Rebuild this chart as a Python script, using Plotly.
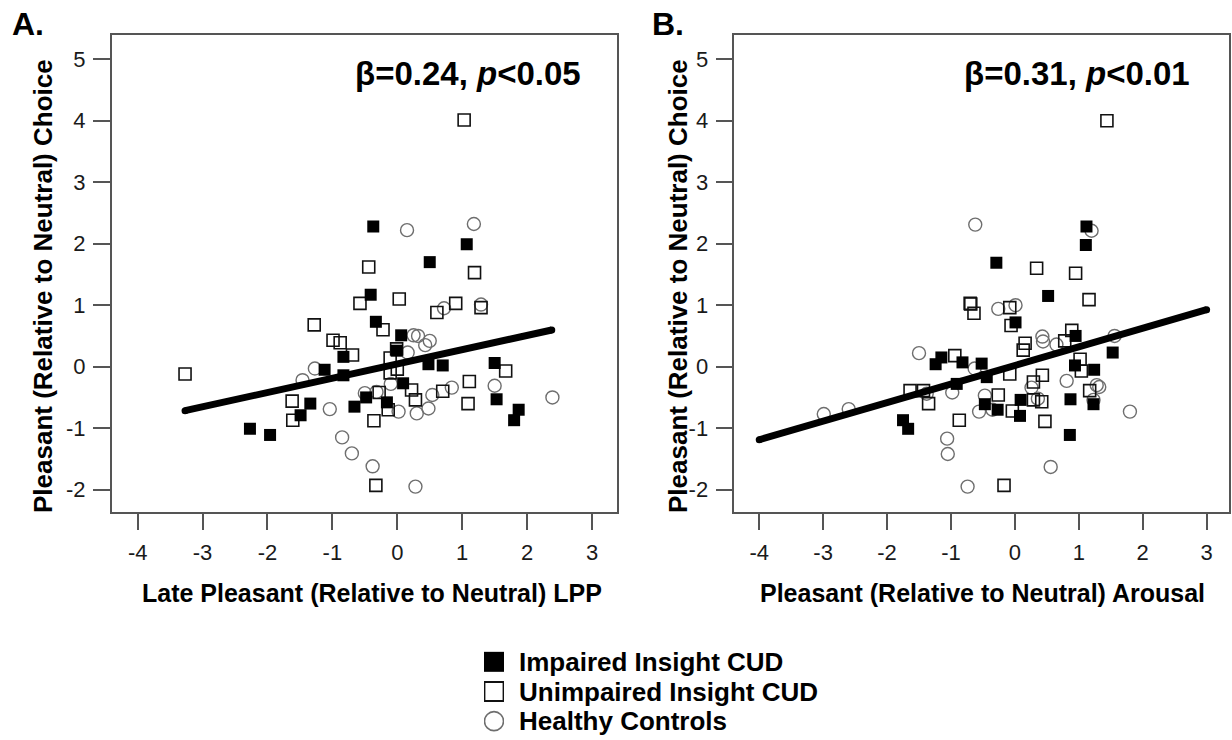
import plotly.graph_objects as go

W, H = 1232, 740
FONT = "Liberation Sans, Arial, sans-serif"

# ---------------- Data ----------------
groups = ["Impaired Insight CUD", "Unimpaired Insight CUD", "Healthy Controls"]
x_ticks = [-4, -3, -2, -1, 0, 1, 2, 3]
x_tick_labels = ["-4", "-3", "-2", "-1", "0", "1", "2", "3"]
y_ticks = [-2, -1, 0, 1, 2, 3, 4, 5]
y_tick_labels = ["-2", "-1", "0", "1", "2", "3", "4", "5"]

# Panel A: Late Pleasant LPP vs Pleasant choice
a_imp_x = [-0.37, 1.07, 0.50, -0.41, -0.33, 0.06, -0.01, -0.83, -1.12, -0.83, 0.48, 0.70,
           1.50, 0.09, -0.16, -0.48, -0.66, -1.34, -1.49, -2.27, -1.96, 1.53, 1.87, 1.80]
a_imp_y = [2.28, 1.99, 1.70, 1.17, 0.73, 0.51, 0.26, 0.16, -0.05, -0.14, 0.04, 0.02,
           0.06, -0.27, -0.58, -0.50, -0.65, -0.60, -0.79, -1.01, -1.11, -0.53, -0.70, -0.87]
a_uni_x = [1.03, -0.44, 1.19, -0.575, 0.03, 0.90, 0.61, 1.29, -1.28, -0.22, -0.99, -0.88,
           -0.01, -0.69, -0.11, -3.27, 0.00, -0.11, 1.67, 1.11, 0.22, 0.28, 0.70, -0.14,
           -0.28, -0.36, -1.62, -1.61, -0.33, 1.09]
a_uni_y = [4.01, 1.62, 1.53, 1.03, 1.10, 1.03, 0.88, 0.96, 0.68, 0.60, 0.43, 0.39,
           0.29, 0.19, 0.14, -0.12, -0.04, -0.10, -0.07, -0.24, -0.38, -0.54, -0.40, -0.70,
           -0.42, -0.88, -0.56, -0.87, -1.93, -0.60]
a_hc_x = [0.15, 1.18, 0.72, 1.29, 0.25, 0.32, 0.43, 0.50, 0.16, -1.27, -1.46, -0.10, 0.84,
          0.54, 0.48, 0.30, 0.02, -0.32, -0.50, -1.04, -0.85, -0.70, -0.38, 0.28, 1.50, 2.39]
a_hc_y = [2.22, 2.32, 0.95, 1.01, 0.51, 0.50, 0.35, 0.42, 0.23, -0.03, -0.22, -0.28, -0.34,
          -0.46, -0.68, -0.76, -0.73, -0.41, -0.43, -0.69, -1.15, -1.41, -1.62, -1.95, -0.31, -0.50]
a_fit_x = [-3.27, 2.38]
a_fit_slope, a_fit_intercept = 0.232, 0.044

# Panel B: Pleasant arousal vs Pleasant choice
b_imp_x = [1.12, 1.11, -0.29, 0.01, 0.52, -1.15, -1.24, -0.82, -0.52, -0.44, -0.91, -1.75,
           -1.67, -0.47, -0.27, 0.09, 0.08, 0.86, 0.87, 0.94, 1.24, 1.53, 1.23, 0.95]
b_imp_y = [2.28, 1.98, 1.69, 0.72, 1.15, 0.15, 0.04, 0.07, 0.05, -0.17, -0.28, -0.87,
           -1.01, -0.61, -0.70, -0.54, -0.80, -1.11, -0.53, 0.02, -0.05, 0.23, -0.61, 0.50]
b_uni_x = [1.44, 0.34, 0.95, -0.69, -0.70, -0.64, -0.08, -0.06, 1.16, 0.89, 0.78, 0.16,
           0.13, -0.94, -0.08, 1.02, 1.04, 0.43, 0.29, 1.17, -1.64, -1.43, -1.35, -0.26,
           0.29, 0.42, -0.04, -0.87, 0.47, -0.17]
b_uni_y = [4.00, 1.60, 1.52, 1.02, 1.03, 0.87, 0.96, 0.67, 1.09, 0.59, 0.42, 0.38,
           0.27, 0.18, -0.12, 0.12, -0.07, -0.14, -0.25, -0.39, -0.39, -0.39, -0.60, -0.46,
           -0.54, -0.57, -0.72, -0.87, -0.89, -1.93]
b_hc_x = [-0.62, 1.20, -0.26, 0.01, 1.56, 0.43, 0.44, 0.65, -1.50, -0.63, 0.81, -2.99,
          -2.60, -1.38, -0.98, -0.47, -0.56, -0.35, 0.26, 0.36, 1.28, 1.32, 1.23, 1.80,
          -1.06, -1.05, 0.56, -0.74]
b_hc_y = [2.31, 2.21, 0.94, 1.00, 0.50, 0.49, 0.41, 0.36, 0.22, -0.03, -0.23, -0.77,
          -0.69, -0.44, -0.42, -0.47, -0.73, -0.70, -0.34, -0.52, -0.30, -0.33, -0.54, -0.73,
          -1.17, -1.42, -1.63, -1.95]
b_fit_x = [-4.0, 3.0]
b_fit_slope, b_fit_intercept = 0.302, 0.020

# ---------------- Helpers ----------------
def fx(px):
    return px / W

def fy(py):
    return 1 - py / H

HC_COLOR = "#6e6e6e"

def add_panel(fig, xa, ya, imp, uni, hc, fit_x, slope, icpt):
    fig.add_trace(go.Scatter(x=hc[0], y=hc[1], mode="markers", xaxis=xa, yaxis=ya,
                             marker=dict(symbol="circle-open", size=13, color=HC_COLOR,
                                         line=dict(width=1.4, color=HC_COLOR)),
                             showlegend=False, hoverinfo="skip"))
    fig.add_trace(go.Scatter(x=uni[0], y=uni[1], mode="markers", xaxis=xa, yaxis=ya,
                             marker=dict(symbol="square-open", size=12, color="#111",
                                         line=dict(width=1.6, color="#111")),
                             showlegend=False, hoverinfo="skip"))
    fig.add_trace(go.Scatter(x=imp[0], y=imp[1], mode="markers", xaxis=xa, yaxis=ya,
                             marker=dict(symbol="square", size=12, color="#000",
                                         line=dict(width=0)),
                             showlegend=False, hoverinfo="skip"))
    fit_y = [icpt + slope * v for v in fit_x]
    fig.add_trace(go.Scatter(x=fit_x, y=fit_y, mode="lines+markers", xaxis=xa, yaxis=ya,
                             line=dict(color="#000", width=7),
                             marker=dict(symbol="circle", size=7, color="#000"),
                             showlegend=False, hoverinfo="skip"))

fig = go.Figure()
add_panel(fig, "x", "y", (a_imp_x, a_imp_y), (a_uni_x, a_uni_y), (a_hc_x, a_hc_y),
          a_fit_x, a_fit_slope, a_fit_intercept)
add_panel(fig, "x2", "y2", (b_imp_x, b_imp_y), (b_uni_x, b_uni_y), (b_hc_x, b_hc_y),
          b_fit_x, b_fit_slope, b_fit_intercept)

# Legend drawn on a small helper axis (categories = group names)
fig.add_trace(go.Scatter(x=[0], y=[groups[0]], mode="markers", xaxis="x3", yaxis="y3",
                         marker=dict(symbol="square", size=20, color="#000"),
                         showlegend=False, hoverinfo="skip"))
fig.add_trace(go.Scatter(x=[0], y=[groups[1]], mode="markers", xaxis="x3", yaxis="y3",
                         marker=dict(symbol="square-open", size=19, color="#111",
                                     line=dict(width=1.8, color="#111")),
                         showlegend=False, hoverinfo="skip"))
fig.add_trace(go.Scatter(x=[0], y=[groups[2]], mode="markers", xaxis="x3", yaxis="y3",
                         marker=dict(symbol="circle-open", size=19, color=HC_COLOR,
                                     line=dict(width=1.6, color=HC_COLOR)),
                         showlegend=False, hoverinfo="skip"))

BOX = "#555555"
tickfont = dict(family=FONT, size=22, color="#1a1a1a")

def xaxis_cfg(dom, rng, anchor):
    return dict(domain=dom, range=rng, anchor=anchor, showline=True, linecolor=BOX,
                linewidth=1.5, mirror=True, ticks="outside", ticklen=17, tickwidth=1.5,
                tickcolor=BOX, tickvals=x_ticks, ticktext=x_tick_labels, tickfont=tickfont,
                ticklabelstandoff=3, showgrid=False, zeroline=False)

def yaxis_cfg(dom, rng, anchor):
    return dict(domain=dom, range=rng, anchor=anchor, showline=True, linecolor=BOX,
                linewidth=1.5, mirror=True, ticks="outside", ticklen=17, tickwidth=1.5,
                tickcolor=BOX, tickvals=y_ticks, ticktext=y_tick_labels, tickfont=tickfont,
                ticklabelstandoff=3, showgrid=False, zeroline=False)

y_dom = [fy(511.7), fy(34.7)]
y_rng = [-2.358, 5.398]

fig.update_layout(
    width=W, height=H, margin=dict(l=0, r=0, t=0, b=0),
    paper_bgcolor="white", plot_bgcolor="white",
    font=dict(family=FONT, color="#000"),
    xaxis=xaxis_cfg([fx(111.7), fx(617)], [-4.40, 3.385], "y"),
    yaxis=yaxis_cfg(y_dom, y_rng, "x"),
    xaxis2=xaxis_cfg([fx(734.3), fx(1229)], [-4.39, 3.35], "y2"),
    yaxis2=yaxis_cfg(y_dom, y_rng, "x2"),
    xaxis3=dict(domain=[fx(484), fx(504)], range=[-1, 1], anchor="y3", visible=False,
                fixedrange=True),
    yaxis3=dict(domain=[fy(736), fy(647)], anchor="x3", type="category",
                categoryorder="array", categoryarray=groups[::-1], range=[-0.5, 2.5],
                tickmode="array", tickvals=groups, ticktext=groups,
                side="right", showline=False, ticks="", showgrid=False, zeroline=False,
                ticklabelstandoff=14,
                tickfont=dict(family=FONT, size=26, color="#000", weight="bold")),
    showlegend=False,
)

ann = []
def text(px, py, s, size, xanchor="center", angle=0):
    ann.append(dict(x=fx(px), y=fy(py), xref="paper", yref="paper", text=s,
                    showarrow=False, xanchor=xanchor, yanchor="middle", textangle=angle,
                    font=dict(family=FONT, size=size, color="#000", weight="bold")))

text(10, 24, "A.", 32, xanchor="left")
text(650, 24, "B.", 32, xanchor="left")
text(468, 74, "β=0.24, <i>p</i>&lt;0.05", 33)
text(1077, 74, "β=0.31, <i>p</i>&lt;0.01", 33)
text(43, 286, "Pleasant (Relative to Neutral) Choice", 26, angle=-90)
text(678, 286, "Pleasant (Relative to Neutral) Choice", 26, angle=-90)
text(372, 593, "Late Pleasant (Relative to Neutral) LPP", 25)
text(982, 593, "Pleasant (Relative to Neutral) Arousal", 25)
fig.update_layout(annotations=ann)

fig.write_html("out.html")
